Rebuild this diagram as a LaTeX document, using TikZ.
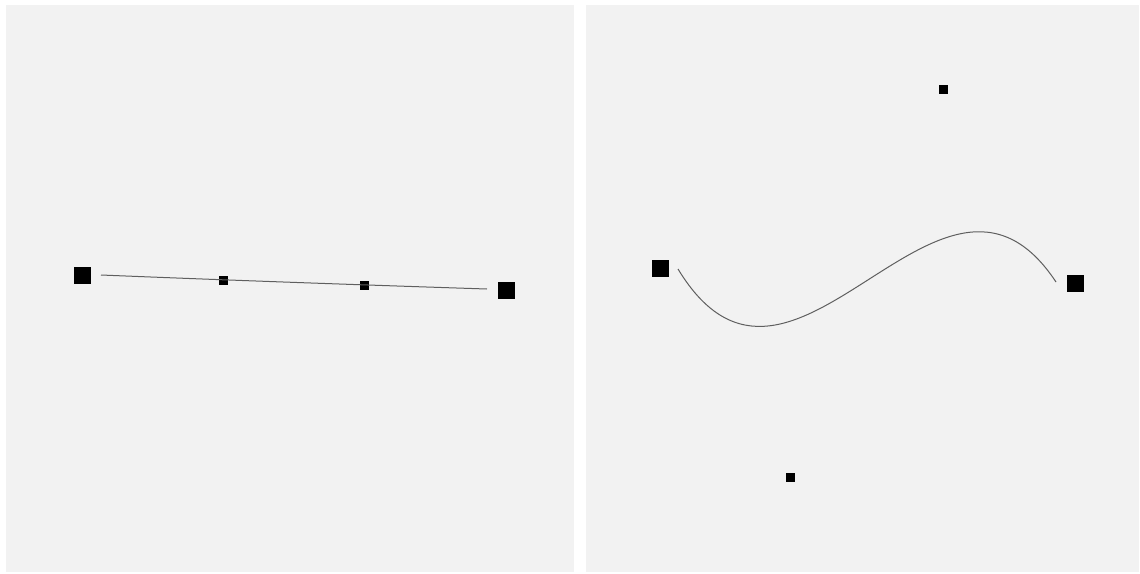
\documentclass[tikz,border=0pt]{standalone}
\definecolor{panelgray}{RGB}{242,242,242}
\definecolor{curvegray}{RGB}{95,95,95}
\begin{document}
\begin{tikzpicture}[x=1pt,y=-1pt,
  big/.style={fill=black,minimum size=17pt,inner sep=0pt,outer sep=0pt,draw=none},
  ctrl/.style={fill=black,minimum size=9pt,inner sep=0pt,outer sep=0pt,draw=none},
  panel/.style={fill=panelgray,draw=none},
  curve/.style={draw=curvegray,line width=1pt}]
\fill[white] (0,0) rectangle (1140,573);
\useasboundingbox (0,0) rectangle (1140,573);
\fill[panel] (6,5) rectangle (574,572);
\fill[panel] (586,5) rectangle (1139,572);
% left panel
\node[big] (la) at (82,275) {};
\node[big] (lb) at (506,290) {};
\node[ctrl] (lc1) at (223,280) {};
\node[ctrl] (lc2) at (364,285) {};
\coordinate (ls) at (101,275);
\coordinate (le) at (487,289);
\draw[curve] (ls) .. controls (lc1.center) and (lc2.center) .. (le);
% right panel
\node[big] (ra) at (660,268) {};
\node[big] (rb) at (1075,283) {};
\node[ctrl] (rc1) at (790,477) {};
\node[ctrl] (rc2) at (943,89) {};
\coordinate (rs) at (678,269);
\coordinate (re) at (1056,282);
\coordinate (rk1) at (792,457);
\coordinate (rk2) at (941,108);
\draw[curve] (rs) .. controls (rk1) and (rk2) .. (re);
\end{tikzpicture}
\end{document}
